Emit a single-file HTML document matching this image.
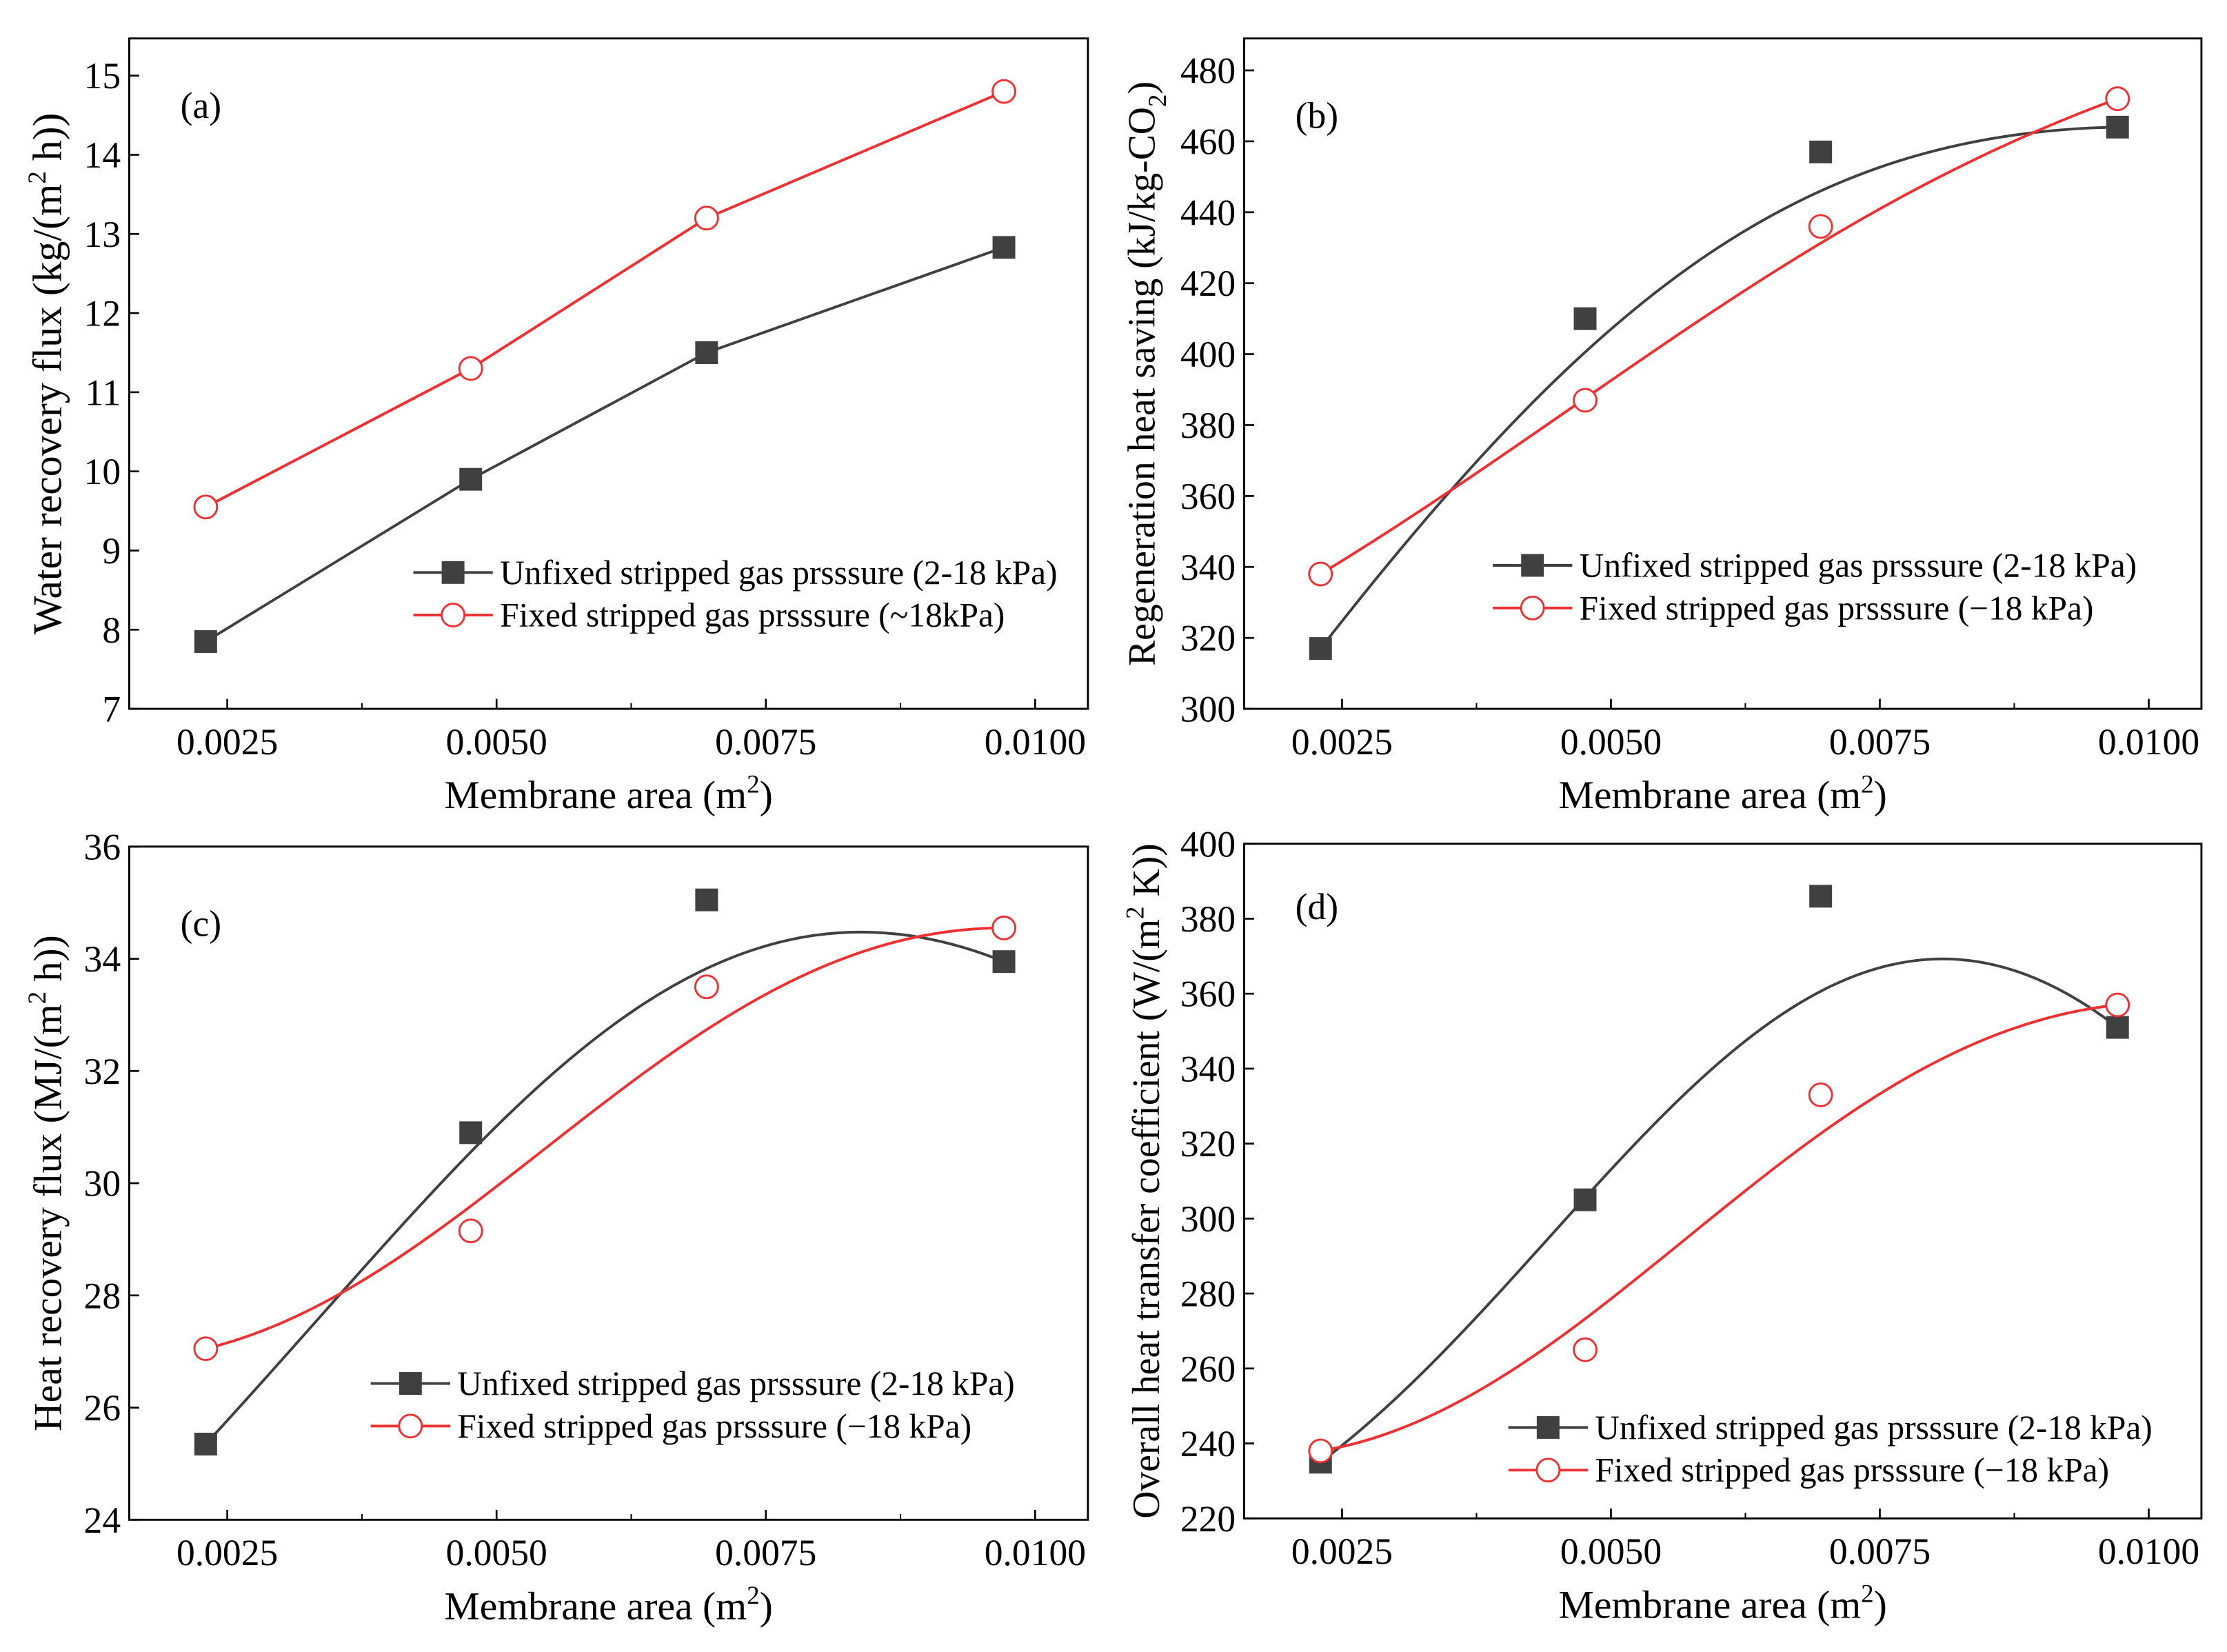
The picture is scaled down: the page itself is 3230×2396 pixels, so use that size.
<!DOCTYPE html>
<html><head><meta charset="utf-8"><style>
html,body{margin:0;padding:0;background:#fff;}
svg{display:block;font-family:"Liberation Serif",serif;}
</style></head><body>
<svg id="fig" width="3230" height="2396" viewBox="0 0 1568 1163" xmlns="http://www.w3.org/2000/svg"></svg>
<script>
const xValues = [0.0023, 0.00476, 0.00695, 0.00971];
const xTicks = [0.0025, 0.0050, 0.0075, 0.0100];
const xTickLabels = ["0.0025", "0.0050", "0.0075", "0.0100"];

const aBlack = [7.85, 9.9, 11.5, 12.83];
const aRed = [9.55, 11.3, 13.2, 14.8];
const aTicks = [7, 8, 9, 10, 11, 12, 13, 14, 15];

const bBlack = [317, 410, 457, 464];
const bRed = [338, 387, 436, 472];
const bTicks = [300, 320, 340, 360, 380, 400, 420, 440, 460, 480];

const cBlack = [25.35, 30.9, 35.05, 33.95];
const cRed = [27.05, 29.15, 33.5, 34.55];
const cTicks = [24, 26, 28, 30, 32, 34, 36];

const dBlack = [235, 305, 386, 351];
const dRed = [238, 265, 333, 357];
const dTicks = [220, 240, 260, 280, 300, 320, 340, 360, 380, 400];

const legendBlack = "Unfixed stripped gas prsssure (2-18 kPa)";
const legendRedA = "Fixed stripped gas prsssure (~18kPa)";
const legendRed = "Fixed stripped gas prsssure (\u221218 kPa)";

const NS = "http://www.w3.org/2000/svg";
const svg = document.getElementById("fig");
function mk(tag, attrs, parent, text){
  const e = document.createElementNS(NS, tag);
  for (const k in attrs) e.setAttribute(k, attrs[k]);
  if (text !== undefined) e.textContent = text;
  (parent || svg).appendChild(e);
  return e;
}

function panel(cfg){
  const g = mk("g", {});
  
  
  const L = cfg.L, R = cfg.R, T = cfg.T, B = cfg.B;
  const xmin = 0.00159, xmax = 0.01049;
  const X = v => L + (v - xmin) / (xmax - xmin) * (R - L);
  const Y = v => B - (v - cfg.ymin) / (cfg.ymax - cfg.ymin) * (B - T);

  const frame = mk("rect", {x:L, y:T, width:R-L, height:B-T, fill:"none", stroke:"#000", "stroke-width":1.4}, g);
  
  

  xTicks.forEach((t, i) => {
    const x = X(t);
    const tk = mk("line", {x1:x, x2:x, y1:B, y2:B-7, stroke:"#000", "stroke-width":1.3}, g);
    
    
    const lb = mk("text", {x:x, y:B+32, "font-size":26, "text-anchor":"middle"}, g, xTickLabels[i]);
    
    
    if (i < xTicks.length - 1) {
      const xm = X(t + 0.00125);
      const mt = mk("line", {x1:xm, x2:xm, y1:B, y2:B-4, stroke:"#000", "stroke-width":1}, g);
      
      
    }
  });
  cfg.ticks.forEach(t => {
    const y = Y(t);
    const tk = mk("line", {x1:L, x2:L+7, y1:y, y2:y, stroke:"#000", "stroke-width":1.3}, g);
    
    
    const lb = mk("text", {x:L-6, y:y+9, "font-size":26, "text-anchor":"end"}, g, String(t));
    
    
  });

  function curve(vals, color, nm){
    const p = xValues.map((x, i) => [X(x), Y(vals[i])]);
    const w = 0.3;
    const c1 = [0,1].map(k => (1-w)*p[1][k] + w*(-5*p[0][k] + 18*p[1][k] - 9*p[2][k] + 2*p[3][k])/6);
    const c2 = [0,1].map(k => (1-w)*p[2][k] + w*(2*p[0][k] - 9*p[1][k] + 18*p[2][k] - 5*p[3][k])/6);
    const d = `M${p[0][0]},${p[0][1]} C${c1[0]},${c1[1]} ${c2[0]},${c2[1]} ${p[3][0]},${p[3][1]}`;
    const c = mk("path", {d:d, fill:"none", stroke:color, "stroke-width":1.9}, g);
    
    
  }
  function lines(vals, color, nm){
    const pts = xValues.map((x, i) => X(x) + "," + Y(vals[i])).join(" ");
    const c = mk("polyline", {points:pts, fill:"none", stroke:color, "stroke-width":1.9}, g);
    
    
  }
  if (cfg.smooth) { curve(cfg.black, "#404040", "fit-curve-unfixed"); curve(cfg.red, "#f03030", "fit-curve-fixed"); }
  else { lines(cfg.black, "#404040", "line-unfixed"); lines(cfg.red, "#f03030", "line-fixed"); }

  cfg.black.forEach((v, i) => {
    const s = mk("rect", {x:X(xValues[i])-8, y:Y(v)-8, width:16, height:16, fill:"#404040"}, g);
    
    
  });
  cfg.red.forEach((v, i) => {
    const c = mk("circle", {cx:X(xValues[i]), cy:Y(v), r:8, fill:"#fff", stroke:"#f03030", "stroke-width":1.4}, g);
    
    
  });

  const pl = mk("text", {x:L+36, y:T+cfg.labelDy, "font-size":26}, g, cfg.label);
  
  

  const lg = mk("g", {}, g);
  
  
  const lx = cfg.legX, ly = cfg.legY;
  const e1 = mk("g", {}, lg);
  
  
  mk("line", {x1:lx, x2:lx+56, y1:ly, y2:ly, stroke:"#404040", "stroke-width":1.9}, e1);
  mk("rect", {x:lx+20, y:ly-8, width:16, height:16, fill:"#404040"}, e1);
  mk("text", {x:lx+61, y:ly+8, "font-size":24}, e1, legendBlack);
  const e2 = mk("g", {}, lg);
  
  
  mk("line", {x1:lx, x2:lx+56, y1:ly+30, y2:ly+30, stroke:"#f03030", "stroke-width":1.9}, e2);
  mk("circle", {cx:lx+28, cy:ly+30, r:8, fill:"#fff", stroke:"#f03030", "stroke-width":1.4}, e2);
  mk("text", {x:lx+61, y:ly+38, "font-size":24}, e2, cfg.redLegend);

  const xt = mk("text", {x:(L+R)/2, y:B+70, "font-size":28, "text-anchor":"middle"}, g);
  
  
  xt.innerHTML = 'Membrane area (m<tspan dy="-11" font-size="18">2</tspan><tspan dy="11">)</tspan>';
  const yt = mk("text", {x:0, y:0, "font-size":cfg.ytSize, "text-anchor":"middle", transform:`translate(${cfg.ytX},${(T+B)/2}) rotate(-90)`}, g);
  
  
  yt.innerHTML = cfg.ytitle;
}

panel({name:"panel-a", L:91, R:766, T:27, B:499, ymin:7, ymax:15.47, ticks:aTicks, black:aBlack, red:aRed,
  smooth:false, label:"(a)", labelDy:56, legX:291, legY:403, redLegend:legendRedA, ytX:43, ytSize:29,
  ytitle:'Water recovery flux (kg/(m<tspan dy="-11" font-size="18">2</tspan><tspan dy="11"> h))</tspan>'});
panel({name:"panel-b", L:876, R:1550, T:27, B:499, ymin:300, ymax:489, ticks:bTicks, black:bBlack, red:bRed,
  smooth:true, label:"(b)", labelDy:63, legX:1051, legY:398, redLegend:legendRed, ytX:813, ytSize:27,
  ytitle:'Regeneration heat saving (kJ/kg-CO<tspan dy="8" font-size="18">2</tspan><tspan dy="-8">)</tspan>'});
panel({name:"panel-c", L:91, R:766, T:596, B:1070, ymin:24, ymax:36, ticks:cTicks, black:cBlack, red:cRed,
  smooth:true, label:"(c)", labelDy:63, legX:261, legY:974, redLegend:legendRed, ytX:43, ytSize:28,
  ytitle:'Heat recovery flux (MJ/(m<tspan dy="-11" font-size="18">2</tspan><tspan dy="11"> h))</tspan>'});
panel({name:"panel-d", L:876, R:1550, T:594, B:1069, ymin:220, ymax:400, ticks:dTicks, black:dBlack, red:dRed,
  smooth:true, label:"(d)", labelDy:53, legX:1062, legY:1005, redLegend:legendRed, ytX:816, ytSize:27,
  ytitle:'Overall heat transfer coefficient (W/(m<tspan dy="-11" font-size="18">2</tspan><tspan dy="11"> K))</tspan>'});
</script>
</body></html>
